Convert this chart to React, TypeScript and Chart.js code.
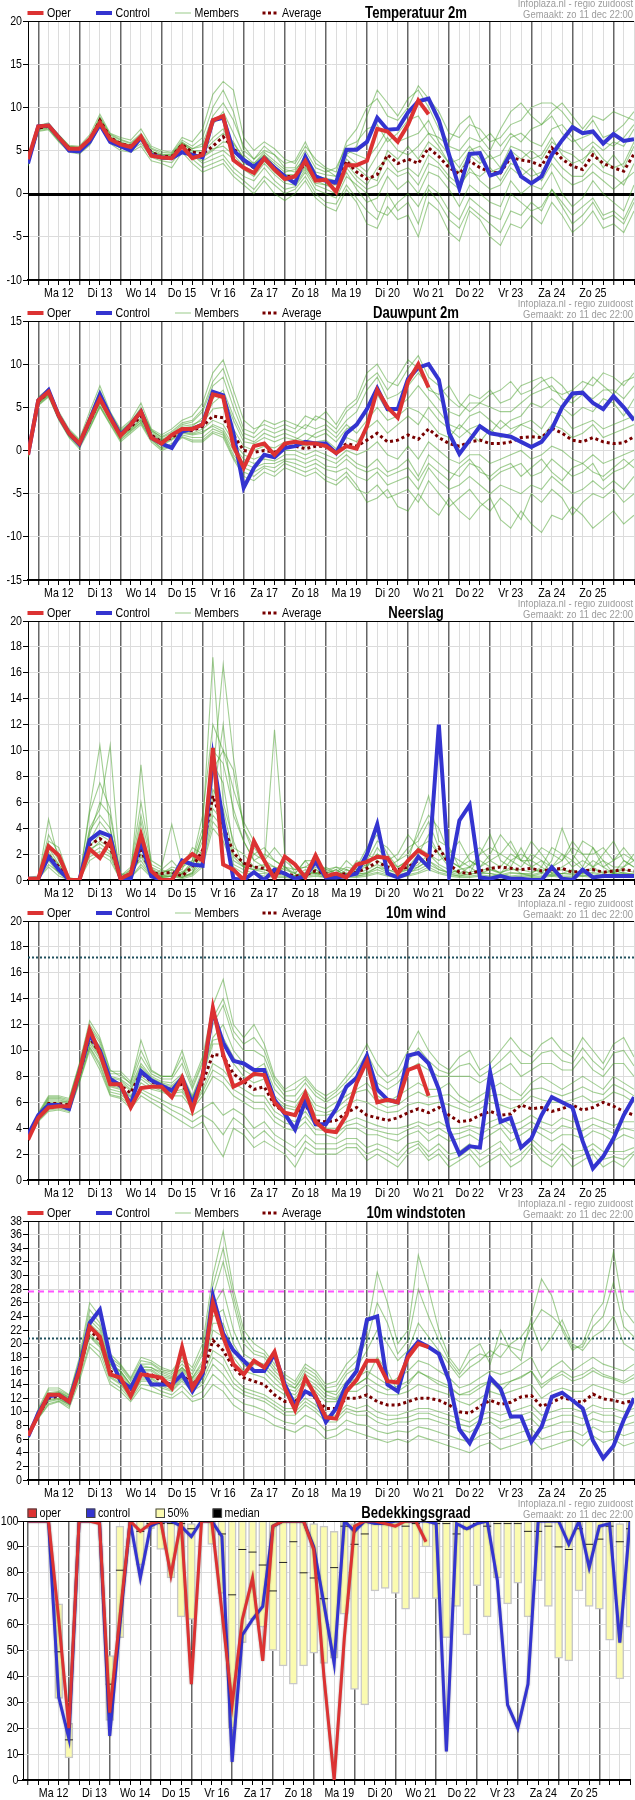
import React, { useEffect, useRef } from "react";
import { Chart, registerables } from "chart.js";
Chart.register(...registerables);

const FONT = '"Liberation Sans", Arial, Helvetica, sans-serif';
const NARROW = 0.82;
const DAYS = ["Ma 12", "Di 13", "Wo 14", "Do 15", "Vr 16", "Za 17", "Zo 18", "Ma 19", "Di 20", "Wo 21", "Do 22", "Vr 23", "Za 24", "Zo 25"];
const HEADER_SITE = "Infoplaza.nl - regio zuidoost";
const HEADER_MADE = "Gemaakt: zo 11 dec 22:00";
const RED = "#dc3232";
const BLUE = "#3434d0";
const MEMBER = "rgba(70,160,40,0.5)";
const AVG = "#780000";

// ---------- Temperatuur 2m (6-hourly from zo 11 18:00) ----------
const TEMP_OPER = [4.0,7.8,7.9,6.5,5.2,5.2,6.3,8.2,6.3,5.7,5.4,6.6,4.4,4.2,4.1,5.5,4.1,4.5,8.5,9.0,3.9,3.0,2.4,4.1,2.8,1.7,2.0,3.8,1.5,1.6,0.2,3.3,3.3,3.8,7.5,7.2,6.0,8.0,10.8,9.2];
const TEMP_CTRL = [3.5,7.8,7.9,6.5,5.0,4.9,6.0,8.0,6.0,5.5,5.0,6.5,4.5,4.2,4.1,4.8,4.5,4.2,8.5,8.8,5.0,3.9,3.1,4.1,3.0,2.0,1.2,4.3,2.0,1.5,1.3,5.1,5.1,6.0,8.8,7.4,7.5,9.4,10.7,11.0,8.5,4.5,0.6,4.6,4.7,2.1,2.5,4.7,2.0,1.2,2.0,4.5,6.2,7.7,7.0,7.2,5.8,6.9,6.1,6.3];
const TEMP_AVG = [3.8,7.6,7.8,6.5,5.3,5.1,6.2,8.5,6.5,5.8,5.5,6.5,4.8,4.3,4.3,5.7,4.8,4.6,5.5,6.6,5.3,3.8,3.0,4.2,3.0,2.0,2.0,3.5,1.8,1.4,1.2,3.8,2.5,1.7,2.2,4.5,3.5,4.0,3.5,5.3,4.3,3.0,2.3,3.8,3.0,2.5,2.4,4.2,3.9,3.7,3.2,5.3,4.0,3.2,2.8,4.5,3.5,3.0,2.6,4.6];
const TEMP_MEMBERS = [
  [3.5,7.9,8.2,6.8,5.6,5.5,6.8,9.2,7.0,6.5,6.2,7.5,5.5,5.0,4.8,6.5,6.0,7.5,11.5,13.0,12.0,6.5,5.0,6.0,5.2,4.0,3.5,5.5,4.0,3.0,2.5,6.0,7.5,10.0,11.0,9.0,8.5,10.0,12.5,11.0,9.5,7.0,6.5,8.0,7.5,6.0,6.5,8.0,8.5,10.0,10.5,10.5,9.5,8.0,7.0,8.5,6.5,7.0,8.0,9.5],
  [3.2,7.2,7.4,6.0,4.8,4.6,5.6,7.8,5.8,5.0,4.8,5.5,3.8,3.5,3.0,4.8,3.5,2.5,3.0,3.5,2.0,1.0,0.0,1.5,0.0,-0.8,0.0,1.5,-0.5,-1.5,-2.0,0.5,-1.0,-3.5,-4.0,-1.5,-3.0,-2.5,-5.0,-1.0,-2.0,-4.5,-5.5,-2.0,-3.0,-5.0,-6.0,-3.5,-4.0,-2.5,-3.5,-1.0,-2.5,-4.5,-3.5,-2.0,-4.0,-3.5,-4.5,-2.0],
  [4.0,7.8,8.0,6.8,5.5,5.3,6.5,8.8,6.8,6.2,5.8,6.8,5.2,4.6,4.5,6.0,5.2,5.5,8.0,9.5,7.0,4.5,3.5,4.8,3.8,2.8,2.5,4.5,2.5,2.2,2.0,5.0,4.5,4.0,5.5,7.5,6.0,6.5,7.0,8.5,6.0,4.5,3.0,5.0,5.5,4.0,4.5,6.5,7.0,6.0,5.5,7.5,8.0,6.5,5.0,6.0,5.0,6.0,5.5,7.5],
  [3.6,7.4,7.6,6.2,5.0,4.9,6.0,8.2,6.2,5.5,5.2,6.2,4.5,4.0,4.0,5.4,4.4,3.8,4.5,5.0,4.0,2.8,2.0,3.5,2.2,1.2,1.0,2.8,1.0,0.5,0.0,2.5,0.5,-1.0,-0.5,2.0,0.5,1.5,0.0,2.5,2.0,0.5,-1.5,1.0,0.0,-1.0,-1.5,1.5,0.0,1.0,0.5,2.5,0.0,-1.5,-0.5,1.5,0.0,-1.0,-2.0,1.0],
  [3.9,7.7,7.9,6.6,5.4,5.2,6.3,8.6,6.6,6.0,5.6,6.6,4.9,4.4,4.4,5.8,5.0,5.0,6.5,7.5,5.0,3.5,3.2,4.5,3.5,2.5,2.8,4.0,2.0,1.8,1.5,4.0,3.0,2.0,1.5,5.0,4.0,5.5,4.0,6.0,5.0,3.5,4.0,5.5,4.0,2.5,3.0,5.0,4.0,5.0,4.0,6.0,5.0,4.5,3.5,5.5,4.0,3.0,3.5,6.0],
  [3.7,7.5,7.7,6.4,5.2,5.0,6.1,8.4,6.4,5.7,5.4,6.4,4.7,4.2,4.2,5.6,4.6,4.2,5.0,6.0,5.8,4.2,3.0,3.8,2.5,1.5,1.5,3.0,1.5,1.0,1.0,3.5,2.0,1.0,3.0,4.0,2.5,3.0,2.0,4.5,3.5,2.0,1.0,2.5,2.0,3.0,1.5,3.5,3.0,2.0,2.5,4.5,3.0,2.0,2.0,3.5,2.5,2.0,1.0,3.5],
  [3.8,7.6,7.8,6.5,5.4,5.3,6.2,8.6,6.5,5.9,5.6,6.7,4.9,4.5,4.6,5.9,5.2,5.8,9.0,10.5,8.5,5.5,4.0,5.0,4.5,3.0,3.0,5.0,3.0,2.5,3.0,5.5,6.0,7.5,8.0,6.0,7.0,8.5,9.0,7.0,6.5,5.5,5.0,6.5,6.0,7.0,5.5,7.0,6.0,7.5,8.0,9.0,7.0,6.0,6.5,7.0,6.0,5.5,6.5,8.0],
  [3.7,7.5,7.8,6.4,5.2,5.1,6.1,8.3,6.3,5.6,5.3,6.3,4.6,4.1,4.0,5.5,4.5,3.5,4.0,4.5,3.0,2.0,1.5,3.0,1.5,0.5,0.8,2.5,0.5,0.0,-0.5,2.0,1.0,0.0,-2.0,-2.5,-1.0,0.0,-1.5,1.0,0.0,-2.0,-3.0,-0.5,-1.5,-2.5,-3.0,0.0,-1.0,-2.0,-1.5,0.5,-1.0,-2.5,-1.5,-0.5,-2.5,-2.0,-3.0,-0.5],
  [3.6,7.7,8.0,6.7,5.5,5.4,6.4,8.9,6.9,6.3,5.9,7.0,5.3,4.8,4.7,6.2,5.5,6.5,10.0,12.0,9.5,5.0,4.0,5.5,4.5,3.5,3.8,6.0,3.5,2.8,2.0,4.5,5.5,9.0,12.0,10.5,9.0,11.0,12.0,10.0,7.5,6.0,8.0,9.0,6.5,5.0,7.5,9.5,10.5,9.0,8.0,9.5,10.5,9.0,7.5,9.0,8.5,9.5,9.0,8.5],
  [3.4,7.3,7.5,6.1,4.9,4.8,5.8,8.0,6.0,5.3,5.0,5.8,4.2,3.8,3.6,5.0,4.0,3.0,3.5,4.0,2.5,1.5,0.5,2.0,1.0,0.0,0.5,2.0,0.0,-1.0,-1.2,1.0,-0.5,-2.0,-3.0,0.0,-2.0,-1.0,-3.5,0.5,-1.0,-3.0,-4.0,-1.5,-2.5,-3.5,-4.5,-2.0,-2.5,-1.0,-2.0,0.5,-1.5,-3.5,-2.5,-1.0,-3.0,-2.5,-3.5,-1.0],
  [3.8,7.6,7.9,6.6,5.3,5.2,6.3,8.5,6.6,5.9,5.5,6.6,4.9,4.4,4.4,5.8,4.9,4.8,6.0,7.0,6.0,4.0,3.5,4.5,3.2,2.2,2.2,3.8,2.2,1.6,1.5,4.5,3.5,2.5,4.5,6.5,5.0,4.5,5.5,7.0,5.5,3.5,2.5,4.5,3.5,4.5,3.0,5.5,5.0,4.0,4.5,6.5,4.5,3.5,4.0,5.0,3.0,4.5,3.0,5.5],
  [3.7,7.5,7.7,6.4,5.2,5.0,6.1,8.4,6.4,5.7,5.4,6.4,4.7,4.2,4.2,5.6,4.7,4.3,5.2,5.5,4.5,3.2,2.5,3.8,2.8,1.8,1.5,3.2,1.2,1.0,0.5,3.0,1.5,0.5,1.0,3.0,2.0,2.5,1.0,3.5,3.0,1.5,0.5,3.0,1.5,0.5,1.0,3.0,2.0,3.0,1.5,3.5,2.0,1.0,1.5,2.5,1.5,0.5,1.5,2.5],
];

// ---------- Dauwpunt 2m ----------
const DEW_OPER = [-0.5,5.8,6.8,4.0,2.0,0.8,3.5,6.0,3.8,1.7,3.0,4.5,1.5,0.8,1.8,2.5,2.5,3.0,6.5,6.2,0.5,-2.0,0.5,0.8,-0.5,0.8,1.0,0.8,0.8,0.5,-0.3,0.5,0.2,2.8,7.0,5.0,3.8,8.0,10.0,7.3];
const DEW_CTRL = [-0.5,5.8,7.0,4.0,2.0,0.7,3.5,6.5,4.0,1.8,3.0,4.5,1.5,0.8,0.3,2.2,2.5,3.0,6.8,6.4,2.0,-4.3,-2.0,-0.5,-0.8,0.3,0.5,1.0,0.8,0.8,-0.3,2.0,3.0,4.8,7.2,4.8,4.8,8.3,9.6,10.0,8.2,2.0,-0.4,1.2,2.8,2.0,1.8,1.6,1.0,0.4,1.0,2.5,5.0,6.6,6.7,5.5,4.8,6.3,5.0,3.5];
const DEW_AVG = [-0.5,5.7,6.7,4.0,2.0,0.8,3.3,6.0,3.8,1.8,2.7,4.0,1.8,1.0,1.5,2.3,2.3,2.8,4.0,3.8,1.8,0.0,-0.2,0.0,-0.2,0.5,0.5,0.2,0.5,0.5,-0.3,0.8,0.5,1.2,2.0,1.0,1.2,1.8,1.3,2.5,1.5,0.8,0.5,1.0,1.2,0.8,0.8,1.0,1.5,1.6,1.5,2.6,2.0,1.2,1.0,1.5,1.0,0.8,0.9,1.6];
const DEW_MEMBERS = [
  [-0.3,6.2,7.2,4.5,2.5,1.3,4.5,7.5,4.5,2.5,3.5,5.5,2.5,1.8,2.5,3.5,4.0,5.5,9.0,10.5,7.0,3.5,2.5,3.0,2.5,3.0,2.5,4.0,3.5,4.5,3.0,5.0,6.0,9.0,10.0,8.0,7.5,9.5,11.0,8.5,7.5,6.0,5.0,6.5,6.0,7.0,5.5,6.0,7.5,8.0,8.5,7.0,6.5,7.0,8.0,7.5,9.0,8.5,7.5,9.0],
  [-0.8,5.2,6.2,3.5,1.5,0.2,2.5,5.0,3.0,1.0,2.0,3.0,1.0,0.0,0.5,1.5,1.0,1.0,2.0,1.5,-1.0,-3.0,-3.5,-2.5,-3.0,-2.0,-2.5,-3.0,-2.5,-3.5,-4.0,-3.0,-4.5,-5.0,-4.0,-5.5,-5.0,-4.5,-6.0,-3.5,-5.0,-6.5,-5.5,-4.5,-6.0,-7.0,-5.5,-6.5,-8.0,-5.0,-6.0,-4.5,-5.5,-7.5,-6.0,-5.0,-5.5,-4.5,-6.0,-5.0],
  [-0.4,5.9,6.9,4.2,2.2,1.0,3.8,6.5,4.0,2.0,3.0,4.5,2.2,1.3,1.8,2.8,3.0,3.5,5.5,6.5,3.5,1.0,0.8,1.5,1.0,1.5,1.2,2.0,1.5,2.0,1.0,2.5,3.0,5.0,6.5,4.5,5.0,6.0,7.5,6.0,4.5,3.0,2.5,4.0,4.5,3.5,2.5,3.5,4.0,5.5,5.0,6.0,5.0,4.0,5.0,4.5,6.0,5.5,4.0,6.0],
  [-0.6,5.5,6.5,3.8,1.8,0.6,3.0,5.5,3.5,1.5,2.5,3.5,1.5,0.6,1.2,2.0,1.8,2.0,3.0,2.5,0.5,-1.0,-1.5,-1.0,-1.2,-0.5,-0.5,-1.0,-0.5,-1.0,-1.5,-0.5,-1.5,-2.0,-1.0,-2.5,-2.0,-1.0,-3.0,-0.5,-1.5,-2.5,-3.0,-1.5,-2.0,-3.5,-2.5,-2.0,-1.5,-3.0,-2.5,-1.0,-2.0,-3.0,-2.5,-1.5,-3.5,-2.5,-2.0,-1.0],
  [-0.5,5.7,6.8,4.1,2.1,0.9,3.4,6.2,3.9,1.9,2.8,4.2,1.9,1.1,1.6,2.4,2.6,3.2,4.8,5.0,2.5,0.5,0.0,0.5,0.3,1.0,0.8,0.5,1.0,1.2,0.2,1.5,1.0,2.5,3.5,2.0,3.0,4.0,3.0,5.0,3.5,2.5,1.5,2.5,3.0,2.0,3.5,2.5,3.0,3.5,2.5,4.5,4.0,2.5,3.0,3.5,2.5,3.0,3.5,4.0],
  [-0.5,5.6,6.6,3.9,1.9,0.7,3.2,5.8,3.7,1.7,2.6,3.8,1.7,0.9,1.4,2.2,2.0,2.5,3.5,3.0,1.0,-0.5,-1.0,-0.5,-0.5,0.0,0.0,-0.5,0.0,-0.5,-1.0,0.0,-0.5,0.0,1.0,-0.5,-1.0,0.5,-1.0,1.0,0.0,-1.0,-1.5,-0.5,-0.5,-1.5,-1.0,-0.5,0.0,-1.0,-0.5,0.5,0.0,-1.0,-1.5,-0.5,-1.5,-1.0,-0.5,0.0],
  [-0.4,5.8,6.9,4.2,2.2,1.1,3.7,6.6,4.2,2.2,3.2,4.8,2.4,1.5,2.0,3.0,3.3,4.5,7.5,8.5,5.0,2.0,1.5,2.5,2.0,2.5,2.0,3.0,2.5,3.0,2.0,3.5,4.5,7.0,8.5,6.0,6.5,7.5,9.0,7.5,6.0,4.5,4.0,5.5,5.5,5.0,4.5,4.5,5.5,6.5,7.0,7.5,6.0,5.5,6.5,6.0,7.0,7.0,6.0,7.5],
  [-0.6,5.4,6.4,3.7,1.7,0.5,2.8,5.2,3.3,1.3,2.3,3.3,1.3,0.3,0.8,1.8,1.5,1.5,2.5,2.0,-0.5,-2.0,-2.5,-1.8,-2.0,-1.2,-1.5,-2.0,-1.5,-2.2,-2.5,-2.0,-3.0,-3.5,-2.5,-4.0,-3.5,-3.0,-4.5,-2.0,-3.5,-4.5,-4.0,-3.0,-4.0,-5.0,-4.0,-4.5,-5.0,-4.0,-4.5,-3.0,-4.0,-5.0,-4.5,-3.5,-4.5,-3.5,-4.5,-3.0],
  [-0.4,6.0,7.0,4.3,2.3,1.2,4.0,7.0,4.3,2.3,3.3,5.0,2.3,1.6,2.2,3.2,3.5,4.8,8.0,9.5,6.0,2.5,2.0,3.5,3.0,3.5,3.0,2.5,4.0,3.5,2.5,4.5,5.5,8.0,9.0,7.0,8.5,10.5,9.5,7.0,6.5,7.5,5.5,4.5,5.5,6.5,7.0,8.0,6.5,7.0,8.0,8.5,7.5,6.0,7.0,8.5,7.5,6.5,8.0,8.5],
  [-0.7,5.3,6.3,3.6,1.6,0.4,2.6,5.1,3.1,1.2,2.2,3.2,1.2,0.2,0.6,1.6,1.2,1.2,2.2,1.8,-0.8,-2.5,-3.0,-2.0,-2.5,-1.5,-2.0,-2.5,-2.0,-3.0,-3.5,-2.5,-4.0,-6.0,-5.5,-4.5,-6.5,-7.0,-5.0,-6.5,-7.5,-5.5,-7.0,-8.0,-6.5,-5.5,-8.0,-9.0,-7.0,-8.5,-9.5,-7.5,-8.0,-6.5,-7.5,-9.0,-8.0,-7.0,-8.5,-7.5],
  [-0.5,5.8,6.8,4.1,2.1,0.9,3.6,6.3,4.0,2.0,2.9,4.3,2.0,1.2,1.7,2.6,2.8,3.8,6.0,7.0,4.0,1.5,1.0,2.0,1.5,2.0,1.5,1.0,2.0,2.5,1.5,3.0,2.0,3.5,5.0,3.5,4.0,5.0,4.5,3.5,2.0,1.5,3.0,2.0,1.0,2.5,1.5,2.0,3.0,2.5,1.5,3.0,2.5,1.5,2.0,3.0,1.5,2.0,2.5,3.0],
  [-0.5,5.5,6.5,3.8,1.8,0.6,3.1,5.6,3.6,1.6,2.4,3.6,1.6,0.7,1.3,2.1,1.9,2.2,2.8,2.2,0.0,-1.5,-2.0,-1.5,-1.5,-1.0,-1.0,-1.5,-1.0,-1.8,-2.0,-1.0,-2.0,-2.5,-2.0,-3.0,-2.5,-2.0,-3.5,-1.5,-2.5,-3.5,-2.0,-1.0,-2.5,-3.0,-2.0,-1.5,-3.0,-2.0,-1.0,-2.5,-3.5,-2.0,-1.5,-2.5,-3.0,-2.0,-1.0,-2.0],
];

// ---------- Neerslag ----------
const RAIN_OPER = [0.1,0.1,2.6,1.9,0.0,0.0,2.4,1.7,3.0,0.1,0.5,3.5,0.7,0.0,0.0,1.3,2.0,1.5,10.2,1.2,0.8,0.0,3.0,1.5,0.1,1.8,1.2,0.2,1.9,0.3,0.5,0.2,1.2,1.4,1.8,1.7,0.5,1.5,2.3,1.8];
const RAIN_CTRL = [0.1,0.1,1.8,0.8,0.0,0.0,3.1,3.7,3.4,0.1,0.1,3.0,0.3,0.0,0.0,1.5,1.2,1.1,9.5,4.5,0.1,0.0,0.6,0.0,0.8,0.5,0.1,0.3,1.4,0.2,0.2,0.3,0.5,2.0,4.3,0.5,0.2,0.5,1.8,1.0,12.0,0.3,4.6,5.8,0.2,0.1,0.3,0.1,0.1,0.0,0.0,1.0,0.1,0.0,0.8,0.2,0.3,0.3,0.3,0.3];
const RAIN_AVG = [0.1,0.1,1.9,1.0,0.0,0.0,2.7,3.2,2.6,0.1,0.4,2.3,0.5,0.5,0.6,0.3,1.0,2.3,6.5,4.2,2.1,1.3,1.0,0.9,0.6,0.5,0.3,0.4,0.7,0.5,0.4,0.5,0.6,0.9,1.4,1.0,0.8,1.0,1.5,1.6,2.5,1.2,0.6,0.5,0.7,0.9,1.0,0.9,0.8,0.9,0.7,0.8,0.9,0.6,0.7,0.8,0.6,0.7,0.8,0.7];
const RAIN_MEMBERS = [
  [0.1,0.2,3.5,2.0,0.1,0.0,5.5,10.4,4.0,0.2,0.5,8.9,1.0,0.2,0.3,0.5,1.5,4.0,17.2,6.0,3.0,1.0,2.0,1.5,0.5,1.0,0.3,0.5,1.0,0.5,0.8,0.3,1.0,2.5,3.5,2.0,1.0,1.5,4.0,6.5,3.0,2.5,1.0,0.5,2.0,3.5,1.5,1.0,2.5,1.0,0.5,1.5,4.0,2.0,1.0,2.5,1.5,0.5,1.0,2.0],
  [0.1,0.1,4.7,1.5,0.0,0.0,4.0,5.5,10.4,0.5,0.3,4.5,0.5,0.5,1.0,0.8,2.5,2.0,8.0,16.6,9.5,4.0,2.5,1.5,1.0,0.8,0.5,1.5,0.5,1.0,0.5,1.5,0.8,1.0,2.0,1.5,2.0,3.5,2.5,2.0,1.5,2.0,3.0,1.5,1.0,2.0,3.5,2.5,1.5,3.0,2.0,1.0,1.5,3.0,2.0,1.0,2.0,3.0,1.5,1.0],
  [0.1,0.1,1.5,0.5,0.0,0.0,2.0,2.5,2.0,0.1,0.8,1.5,0.3,0.8,0.5,0.2,0.5,2.5,6.0,12.0,5.0,3.0,1.5,1.0,11.6,2.0,0.5,0.2,0.8,0.3,0.2,0.8,0.5,0.5,1.0,0.8,0.5,0.8,1.0,1.5,1.0,0.5,0.8,1.0,0.5,0.8,0.5,1.0,0.5,0.5,1.0,0.5,0.5,0.8,0.5,1.0,0.5,0.8,0.5,0.5],
  [0.0,0.1,1.0,0.3,0.0,0.0,1.5,2.0,1.5,0.0,0.2,1.0,0.2,0.2,0.3,0.1,0.3,1.0,4.0,3.0,1.0,0.5,0.5,0.3,0.2,0.2,0.1,0.2,0.3,0.2,0.1,0.2,0.2,0.3,0.5,0.3,0.2,0.3,0.5,0.8,0.5,0.3,0.2,0.2,0.3,0.2,0.3,0.2,0.3,0.2,0.2,0.3,0.2,0.2,0.3,0.2,0.2,0.3,0.2,0.2],
  [0.1,0.1,2.5,1.2,0.0,0.0,3.0,4.5,3.5,0.2,0.5,3.0,0.8,0.5,0.8,0.5,1.0,3.5,9.0,7.5,2.5,2.0,1.0,1.2,1.0,0.5,0.3,0.8,0.5,0.5,0.8,0.3,1.5,1.0,2.5,1.5,0.5,1.0,2.0,3.5,2.0,1.0,0.5,1.0,1.5,1.0,0.5,1.5,1.0,2.0,1.5,0.5,1.0,1.5,0.8,1.5,1.0,0.5,1.5,1.0],
  [0.1,0.1,1.8,0.8,0.0,0.0,2.2,3.0,2.5,0.1,0.3,2.0,0.5,0.3,0.5,0.3,0.5,1.5,5.0,4.0,1.5,1.0,0.8,0.8,0.5,0.5,0.2,0.5,0.5,0.3,0.3,0.5,0.3,0.5,0.8,0.5,0.3,0.5,1.0,1.5,0.8,0.5,0.3,0.5,0.5,0.5,0.3,0.5,0.5,0.3,0.5,0.3,0.5,0.5,0.3,0.5,0.3,0.5,0.5,0.3],
  [0.2,0.3,3.0,2.5,0.2,0.0,3.5,6.0,5.0,0.3,1.0,6.0,1.5,1.0,4.3,1.0,1.5,5.0,12.0,10.0,8.5,4.0,2.0,2.5,1.5,1.0,0.8,1.0,1.5,0.8,1.0,0.8,0.5,2.0,1.5,1.0,1.5,2.5,3.0,4.5,2.5,1.5,1.0,2.0,2.5,1.5,2.0,3.0,1.5,1.5,2.5,2.0,1.5,2.5,2.0,2.0,2.5,1.5,2.0,1.5],
  [0.1,0.1,2.2,1.0,0.0,0.0,2.6,3.5,3.0,0.1,0.4,2.5,0.6,0.4,0.6,0.4,0.8,2.0,7.0,5.5,2.0,1.2,1.0,0.8,0.6,0.5,0.3,0.6,0.6,0.4,0.4,0.5,0.5,0.8,1.2,0.8,0.6,0.8,1.2,2.0,1.2,0.8,0.5,0.6,0.8,0.8,0.6,0.8,0.8,0.6,0.8,0.6,0.8,0.6,0.6,0.8,0.6,0.6,0.8,0.6],
  [0.1,0.2,2.8,1.5,0.1,0.0,5.2,7.5,5.5,0.3,0.8,5.0,1.2,0.8,1.5,0.6,1.2,3.5,10.0,9.0,5.5,3.0,1.5,2.0,1.5,1.0,0.5,1.5,1.5,0.8,0.5,1.0,0.8,1.5,3.0,2.5,1.5,2.0,3.5,5.0,4.0,2.0,1.5,1.0,2.0,2.5,2.0,1.5,2.0,1.5,1.0,2.5,2.0,1.5,3.0,2.5,1.0,1.5,2.5,1.5],
  [0.1,0.1,1.2,0.6,0.0,0.0,1.8,2.2,1.8,0.0,0.2,1.2,0.3,0.2,0.3,0.2,0.4,1.2,4.5,3.5,1.2,0.8,0.5,0.5,0.3,0.3,0.2,0.3,0.4,0.2,0.2,0.3,0.3,0.4,0.6,0.4,0.3,0.4,0.6,1.0,0.6,0.4,0.3,0.3,0.4,0.3,0.4,0.3,0.4,0.3,0.3,0.4,0.3,0.3,0.4,0.3,0.3,0.4,0.3,0.3],
  [0.1,0.1,2.0,1.2,0.0,0.0,3.8,5.0,4.0,0.2,0.6,3.5,1.0,0.6,0.8,0.5,1.2,3.0,8.5,10.0,7.0,4.5,3.0,1.5,2.5,1.5,0.8,1.0,0.8,0.6,1.0,0.5,0.8,1.2,2.0,1.5,1.0,1.5,2.5,3.0,2.0,1.5,1.0,1.5,1.0,1.5,1.0,2.0,1.5,1.0,1.5,1.0,2.0,1.0,1.5,1.0,1.5,1.0,1.0,1.5],
  [0.1,0.1,1.6,0.9,0.0,0.0,2.4,2.8,2.2,0.1,0.3,1.8,0.4,0.3,0.4,0.2,0.6,1.8,5.5,4.5,1.8,1.0,0.8,0.6,0.4,0.4,0.2,0.4,0.5,0.3,0.3,0.4,0.4,0.6,1.0,0.6,0.4,0.6,0.8,1.2,0.8,0.6,0.4,0.4,0.6,0.5,0.4,0.6,0.5,0.4,0.6,0.4,0.5,0.4,0.5,0.6,0.4,0.5,0.6,0.4],
];

// ---------- 10m wind ----------
const WIND_OPER = [3.1,4.8,5.6,5.7,5.7,8.3,11.6,9.8,7.4,7.4,5.6,7.1,7.2,7.2,6.4,7.9,5.4,8.0,13.3,9.7,7.2,7.6,8.2,8.1,6.0,5.2,5.0,6.7,4.5,3.8,3.7,5.0,7.5,9.2,6.0,6.2,6.0,8.5,8.8,6.5];
const WIND_CTRL = [3.5,5.0,5.8,5.8,5.5,8.3,11.2,10.0,7.8,7.3,5.8,8.4,7.7,7.3,6.9,7.9,5.9,8.0,13.0,10.6,9.2,9.0,8.5,8.5,6.2,5.1,3.9,6.1,4.3,4.3,5.5,7.2,7.9,9.6,7.0,6.2,6.0,9.6,9.8,9.0,7.0,3.8,2.0,2.6,2.5,8.3,4.5,4.8,2.5,3.2,5.0,6.4,6.0,5.6,3.0,0.9,1.8,3.2,5.0,6.4];
const WIND_AVG = [3.5,4.8,5.9,5.9,5.8,8.2,11.0,9.8,7.5,7.3,6.7,8.3,7.6,7.2,7.0,7.4,6.0,7.5,9.7,9.6,8.2,7.6,7.0,7.2,5.8,5.2,5.0,5.8,4.6,4.5,4.6,5.2,5.6,5.0,4.8,4.6,4.8,5.2,5.5,5.2,5.6,5.0,4.5,4.6,5.0,5.3,5.0,5.1,5.8,5.5,5.6,5.3,5.5,5.8,5.4,5.6,6.0,5.7,5.3,5.0];
const WIND_MEMBERS = [
  [3.2,5.2,6.5,6.5,6.3,9.0,12.3,11.0,8.5,8.0,7.5,10.8,8.5,8.0,8.0,10.0,7.5,9.5,13.5,15.5,12.0,11.0,12.0,10.5,8.0,7.0,7.5,8.0,7.0,6.5,7.0,8.0,9.0,10.5,9.0,8.0,8.5,10.0,11.5,10.0,9.0,8.5,9.5,10.0,8.5,9.0,10.0,11.0,10.0,9.5,10.5,11.0,10.0,9.5,11.0,10.0,9.0,10.5,11.0,9.5],
  [3.6,4.5,5.3,5.4,5.2,7.5,10.0,8.5,6.5,6.3,5.5,6.5,6.0,5.5,5.0,4.5,4.0,4.5,3.0,1.8,4.0,3.5,2.5,3.0,2.5,2.0,1.0,2.5,2.0,2.0,2.0,2.5,2.5,1.5,2.0,1.5,1.0,2.0,2.5,1.5,2.0,1.0,1.5,2.0,1.0,1.5,2.0,1.0,1.5,2.5,1.5,1.0,2.0,1.0,1.5,2.0,1.0,1.5,1.0,2.0],
  [3.4,5.0,6.2,6.2,6.0,8.6,11.5,10.3,8.0,7.8,7.2,9.0,8.0,7.6,7.5,8.2,6.5,8.5,11.0,12.0,10.0,9.0,8.5,9.0,7.0,6.2,6.0,7.0,5.8,5.5,6.0,6.5,7.0,7.5,6.5,6.0,6.5,7.0,7.5,7.0,7.0,7.5,6.5,6.0,6.5,7.0,7.5,7.0,6.5,7.5,8.0,7.5,7.0,7.5,8.0,7.5,7.0,8.0,7.5,7.0],
  [3.5,4.7,5.6,5.7,5.6,7.9,10.5,9.3,7.0,6.8,6.2,7.5,7.0,6.8,6.5,6.5,5.5,6.5,8.0,7.5,6.5,6.0,5.5,5.5,4.5,4.0,3.8,4.5,3.5,3.5,3.2,4.0,4.0,3.5,3.5,3.2,3.0,3.5,3.8,3.0,3.5,3.0,3.2,3.5,3.0,3.5,4.0,3.0,3.5,4.0,3.5,3.0,3.5,3.5,3.2,3.8,3.5,3.0,3.5,3.2],
  [3.5,4.9,6.0,6.0,5.9,8.3,11.2,10.0,7.7,7.5,6.9,8.6,7.8,7.4,7.2,7.8,6.3,8.0,10.5,10.5,9.0,8.0,7.5,7.8,6.2,5.6,5.4,6.4,5.0,5.0,5.2,5.8,6.2,6.0,5.5,5.2,5.3,5.8,6.0,5.8,6.0,5.8,5.5,5.2,5.5,6.0,5.8,5.5,5.8,6.5,6.2,6.0,6.0,6.2,6.5,6.0,6.2,6.8,6.5,6.0],
  [3.4,4.8,5.8,5.8,5.7,8.0,10.8,9.6,7.3,7.1,6.5,8.0,7.4,7.0,6.8,7.0,5.8,7.0,9.0,8.5,7.5,7.0,6.5,6.5,5.3,4.8,4.5,5.3,4.2,4.0,4.0,4.5,4.8,4.5,4.2,4.0,4.0,4.2,4.5,4.2,4.5,4.0,4.0,4.2,4.0,4.5,4.8,4.2,4.5,5.0,4.5,4.2,4.8,4.5,4.5,4.8,4.5,4.2,4.5,4.5],
  [3.3,5.1,6.3,6.3,6.1,8.8,11.8,10.6,8.2,8.2,7.4,9.5,8.2,7.8,7.8,9.0,7.0,9.0,12.0,13.5,11.0,10.0,10.0,9.5,7.5,6.5,6.5,7.5,6.5,6.0,6.5,7.2,8.0,9.0,7.5,7.0,7.5,8.5,9.0,8.5,8.0,8.0,8.0,8.0,7.5,8.0,8.5,9.0,8.0,8.5,9.0,9.0,8.5,8.5,9.5,8.5,8.0,9.0,9.0,8.0],
  [3.6,4.6,5.5,5.6,5.4,7.7,10.3,9.0,6.8,6.6,6.0,7.0,6.6,6.2,5.8,5.5,5.0,5.5,6.0,5.0,5.5,5.0,4.0,4.5,3.5,3.0,2.5,3.5,2.8,2.8,2.8,3.2,3.2,2.5,2.8,2.5,2.0,2.8,3.0,2.2,2.8,2.0,2.2,2.8,2.0,2.5,3.0,2.0,2.5,3.2,2.5,2.0,2.8,2.2,2.3,2.8,2.2,2.2,2.2,2.5],
  [3.3,5.0,6.1,6.1,6.0,8.5,11.4,10.2,7.9,7.7,7.0,8.8,7.9,7.5,7.3,8.0,6.4,8.2,10.8,11.0,9.5,8.5,8.0,8.3,6.5,5.8,5.6,6.8,5.4,5.2,5.5,6.2,6.8,7.0,6.0,5.6,5.8,6.4,6.8,6.4,6.5,6.6,6.0,5.6,6.0,6.5,6.6,6.2,6.2,7.0,7.1,6.8,6.5,6.8,7.2,6.8,6.6,7.4,7.0,6.5],
  [3.5,4.8,5.7,5.8,5.6,8.0,10.7,9.5,7.2,7.0,6.4,7.8,7.2,6.9,6.7,6.8,5.7,6.8,8.5,8.0,7.0,6.5,6.0,6.0,4.9,4.4,4.2,4.9,3.9,3.8,3.6,4.2,4.4,4.0,3.8,3.6,3.5,3.9,4.2,3.6,4.0,3.5,3.6,3.9,3.5,4.0,4.4,3.6,4.0,4.5,4.0,3.6,4.2,4.0,3.8,4.3,4.0,3.6,4.0,3.8],
  [3.4,5.1,6.4,6.4,6.2,8.9,12.0,10.8,8.4,8.4,7.6,10.0,8.4,8.0,8.0,9.5,7.2,9.2,12.5,14.0,11.5,10.5,11.0,10.0,7.8,6.8,7.0,7.8,6.8,6.2,6.8,7.6,8.5,9.8,8.2,7.5,8.0,9.2,10.2,9.2,8.5,8.2,8.8,9.0,8.0,8.5,9.2,10.0,9.0,9.0,9.8,10.0,9.2,9.0,10.2,9.2,8.5,9.8,10.0,8.8],
  [3.6,4.6,5.4,5.5,5.3,7.6,10.2,8.8,6.6,6.4,5.8,6.8,6.3,5.9,5.4,5.0,4.5,5.0,4.5,3.5,4.8,4.2,3.2,3.8,3.0,2.5,1.8,3.0,2.4,2.4,2.4,2.8,2.8,2.0,2.4,2.0,1.5,2.4,2.8,1.8,2.4,1.5,1.8,2.4,1.5,2.0,2.5,1.5,2.0,2.8,2.0,1.5,2.4,1.6,1.9,2.4,1.6,1.8,1.6,2.2],
];
const WIND_STORM = 17.2;

// ---------- 10m windstoten ----------
const GUST_OPER = [6.5,9.5,12.5,12.5,11.5,16.0,22.5,21.0,15.5,15.0,12.3,15.5,15.3,15.0,13.5,19.5,13.5,16.0,26.0,21.0,17.0,15.5,17.5,16.5,18.8,13.5,10.3,15.0,12.3,9.2,9.0,13.0,14.7,17.5,17.5,14.5,14.3,18.0,20.0,19.5];
const GUST_CTRL = [6.3,9.8,12.3,12.5,11.5,16.5,23.0,25.0,18.0,14.5,13.5,16.5,14.0,14.0,14.0,15.5,13.0,15.5,27.0,21.5,19.0,17.5,16.0,16.0,18.5,14.0,11.0,13.0,12.3,8.5,10.5,14.0,16.0,23.5,24.0,14.0,13.0,18.5,20.3,19.5,18.5,14.6,7.4,5.4,8.5,15.0,13.4,9.3,9.3,5.6,7.8,12.2,12.8,11.7,10.5,5.8,3.2,5.0,8.8,12.0];
const GUST_AVG = [6.5,9.5,12.0,12.3,11.5,16.0,22.0,20.5,16.0,15.0,13.0,15.5,15.5,14.5,14.0,15.5,14.0,15.5,20.5,19.0,16.5,15.0,14.5,14.0,12.5,11.5,11.5,13.0,12.0,10.5,10.5,12.0,12.0,12.5,11.5,11.0,11.0,11.5,12.0,12.0,11.7,11.0,10.0,9.8,10.8,11.7,11.1,11.4,12.2,12.4,10.8,11.4,12.1,11.7,11.4,12.6,11.9,11.7,11.3,11.7];
const GUST_MEMBERS = [
  [6.0,10.5,13.5,13.5,12.5,18.0,26.0,24.0,18.5,17.0,15.0,18.0,17.5,16.5,16.0,18.0,16.5,20.0,30.0,36.5,28.0,22.0,20.0,19.0,17.0,15.5,14.5,17.0,16.0,14.0,14.5,17.0,18.5,22.0,30.5,26.0,20.0,22.0,33.0,28.0,22.0,18.0,16.0,19.0,20.0,17.0,22.0,19.0,17.5,24.0,29.5,27.0,22.0,19.0,20.0,24.0,26.0,33.5,25.0,23.0],
  [6.8,9.0,11.0,11.5,10.5,14.5,19.5,18.0,14.0,13.0,11.5,13.5,13.0,12.5,12.0,13.0,11.5,12.0,14.0,13.0,11.0,10.0,9.5,9.0,8.0,7.5,7.0,8.0,7.5,6.0,6.5,7.5,7.0,6.5,6.0,5.5,6.0,5.5,6.5,6.0,5.5,5.0,4.5,4.0,5.0,5.5,4.5,5.0,5.5,6.0,4.5,5.0,5.5,6.0,5.0,6.5,5.5,6.0,5.0,5.5],
  [6.4,9.8,12.5,12.8,12.0,16.5,23.0,21.5,17.0,16.0,14.0,16.5,16.5,15.5,15.0,16.5,15.0,17.0,24.0,25.0,20.0,17.5,17.0,16.5,15.0,13.5,13.0,15.0,14.0,12.5,12.0,14.0,15.0,16.0,15.0,14.0,15.0,16.0,17.5,17.0,16.0,15.0,13.5,14.0,15.0,16.0,15.5,16.0,17.0,18.0,15.0,16.5,17.5,16.0,17.0,18.0,17.0,16.5,16.0,17.0],
  [6.6,9.2,11.5,11.8,11.0,15.5,21.0,19.5,15.0,14.0,12.0,14.5,14.5,13.5,13.0,14.5,13.0,14.0,17.0,15.5,13.5,12.5,12.0,11.5,10.5,9.5,9.5,11.0,10.0,8.5,8.5,10.0,9.5,9.5,8.5,8.0,8.5,8.5,9.0,9.0,8.5,8.0,7.5,7.0,8.0,8.5,7.5,8.0,8.5,9.0,7.5,8.0,8.5,8.5,8.0,9.0,8.5,8.5,8.0,8.5],
  [6.5,9.6,12.2,12.5,11.8,16.2,22.5,21.0,16.5,15.5,13.5,16.0,16.0,15.0,14.5,16.0,14.5,16.0,22.0,21.0,18.0,16.0,15.5,15.0,13.5,12.5,12.0,14.0,13.0,11.5,11.5,13.0,13.0,14.0,13.0,12.5,12.5,13.0,14.0,13.5,13.0,12.5,11.5,11.0,12.0,13.0,12.5,13.0,13.5,14.0,12.0,13.0,13.5,13.0,13.0,14.0,13.5,13.0,12.5,13.0],
  [6.2,10.0,12.8,13.0,12.2,17.0,24.0,22.5,17.5,16.5,14.5,17.0,17.0,16.0,15.5,17.0,15.5,18.5,27.0,32.0,26.0,20.0,18.5,18.0,16.0,14.5,13.5,16.0,15.0,13.0,13.0,15.5,16.5,19.0,22.0,20.0,17.5,19.0,23.0,21.0,19.0,17.0,15.0,16.5,17.5,19.0,18.0,20.0,21.0,23.0,19.0,21.0,23.5,20.0,19.0,21.0,22.0,24.0,20.0,19.0],
  [6.5,9.4,11.8,12.0,11.2,15.8,21.5,20.0,15.5,14.5,12.5,15.0,15.0,14.0,13.5,15.0,13.5,15.0,19.0,18.0,15.0,13.5,13.0,12.5,11.5,10.5,10.5,12.0,11.0,9.5,9.5,11.0,10.5,11.0,10.0,9.5,9.5,10.0,10.5,10.5,10.0,9.5,9.0,8.5,9.5,10.0,9.5,10.0,10.5,11.0,9.5,10.0,10.5,10.5,10.0,11.0,10.5,10.5,10.0,10.5],
  [6.3,9.9,12.6,12.9,12.1,16.8,23.5,22.0,17.0,16.0,14.0,16.8,16.5,15.8,15.2,16.5,15.0,17.5,25.5,28.0,22.0,18.5,17.5,17.0,15.5,14.0,13.5,15.5,14.5,13.0,12.5,14.5,14.0,15.0,18.0,16.0,13.0,14.0,16.0,15.0,14.0,13.5,12.5,13.0,14.0,14.5,13.0,14.5,15.0,16.0,14.0,15.0,16.0,15.0,15.5,16.5,15.5,15.0,14.5,15.5],
  [6.1,10.2,13.2,13.2,12.4,17.5,25.0,23.0,18.0,16.8,14.8,17.5,17.2,16.2,15.8,17.5,16.0,19.0,28.5,34.0,27.0,21.0,19.0,18.5,16.5,15.0,14.0,16.5,15.5,13.5,13.8,16.0,17.5,20.5,26.0,23.0,18.5,20.5,28.0,24.0,20.5,17.5,15.5,17.5,18.5,18.0,20.0,19.5,19.0,22.5,25.0,24.0,22.5,19.5,19.5,22.5,24.0,29.0,22.5,21.0],
  [6.7,9.1,11.2,11.6,10.8,15.0,20.0,18.8,14.5,13.5,11.8,14.0,13.8,13.0,12.5,13.8,12.2,13.0,15.5,14.2,12.2,11.2,10.8,10.2,9.2,8.5,8.2,9.5,8.8,7.2,7.5,8.8,8.2,8.0,7.2,6.8,7.2,7.0,7.8,7.5,7.0,6.5,6.0,5.5,6.5,7.0,6.0,6.5,7.0,7.5,6.0,6.5,7.0,7.2,6.5,7.8,7.0,7.2,6.5,7.0],
  [6.4,9.7,12.4,12.7,11.9,16.4,22.8,21.2,16.8,15.8,13.8,16.2,16.2,15.2,14.8,16.2,14.8,16.5,23.0,23.0,19.0,16.8,16.2,15.8,14.2,13.0,12.5,14.5,13.5,12.0,11.8,13.5,14.0,15.0,14.0,13.2,13.8,14.5,15.8,15.2,14.5,13.8,12.5,12.5,13.5,14.5,14.0,14.5,15.2,16.0,13.5,14.8,15.5,14.5,15.0,16.0,15.2,14.8,14.2,15.0],
  [6.6,9.3,11.7,11.9,11.1,15.6,21.2,19.8,15.2,14.2,12.2,14.8,14.8,13.8,13.2,14.8,13.2,14.5,18.0,16.8,14.2,13.0,12.5,12.0,11.0,10.0,10.0,11.5,10.5,9.0,9.0,10.5,10.0,10.2,9.2,8.8,9.0,9.2,9.8,9.8,9.2,8.8,8.2,7.8,8.8,9.2,8.5,9.0,9.5,10.0,8.5,9.0,9.5,9.5,9.0,10.0,9.5,9.5,9.0,9.5],
];
const GUST_SEVERE = 27.8;
const GUST_STORM = 20.8;

// ---------- Bedekkingsgraad (6-hour cells, centred) ----------
const CLOUD_OPER = [100,100,100,62,20,100,100,99,26,63,100,96,99,100,79,100,37,100,100,65,29,62,78,46,98,100,100,100,89,40,0,55,98,100,100,99,98,100,100,92];
const CLOUD_CTRL = [100,100,100,32,16,100,100,100,17,60,100,78,98,100,100,98,94,100,100,94,7,56,62,67,98,100,100,100,90,68,45,100,96,100,99,99,100,100,100,100,99,11,99,97,99,100,77,29,20,37,100,100,100,91,100,82,98,99,53,100];
const CLOUD_P25 = [null,null,null,31.5,8.5,null,null,null,23,55,null,83,97,89,78,63,62,null,91,72,20,53,62,59,50,44,37,44,49,45,47,64,35,29,73,74,72,66,70,90,70,55,67,56,75,63,78,68,76,63,77,67,47,46,73,67,66,54,39,59];
const CLOUD_P75 = [null,null,null,68,22,null,null,null,48,98,null,100,100,100,100,100,99,null,100,100,100,100,100,100,100,100,100,100,99,98,96,100,99,100,100,100,100,100,100,100,100,100,100,100,100,100,100,100,100,100,100,100,100,100,100,100,100,100,99,100];
const CLOUD_MED = [null,null,null,49.5,15.5,null,null,null,37,81,null,96,99,99,99,99,97,null,100,95,71.5,89,88,83,73,84,92,80,78,70,82,98,91,95,99,99,100,98,99,100,99,99,95,97,99,98,99,99,99,96,96,98,90,89,97,91,93,98,92,97];

const LINE_LEGEND = [
  { label: "Oper", x: 27.5, kind: "line", color: RED, width: 4 },
  { label: "Control", x: 96, kind: "line", color: BLUE, width: 4 },
  { label: "Members", x: 175, kind: "line", color: "rgba(70,160,40,0.55)", width: 1 },
  { label: "Average", x: 262.5, kind: "dots", color: AVG, width: 3 },
];
const BOX_LEGEND = [
  { label: "oper", x: 27.5, color: RED },
  { label: "control", x: 86, color: BLUE },
  { label: "50%", x: 155.5, color: "#fbfbb0" },
  { label: "median", x: 212.6, color: "#000" },
];

const tickVal = (c: any) => (c && c.tick && typeof c.tick.value === "number" ? c.tick.value : -1);
const isDayLine = (v: number) => v >= 0 && Math.round(v) % 4 === 1;

function narrowText(ctx: any, text: string, x: number, y: number, align: string, font: string, color: string) {
  ctx.save();
  ctx.font = font;
  ctx.fillStyle = color;
  ctx.textAlign = align;
  ctx.textBaseline = "middle";
  ctx.translate(x, y);
  ctx.scale(NARROW, 1);
  ctx.fillText(text, 0, 0);
  ctx.restore();
}

const panelPlugin = {
  id: "panel",
  beforeDatasetsDraw(chart: any, _a: any, opts: any) {
    const { ctx, chartArea: a, scales } = chart;
    (opts.refs || []).forEach((r: any) => {
      const y = Math.round(scales.y.getPixelForValue(r.value)) + 0.5;
      ctx.save();
      ctx.strokeStyle = r.color;
      ctx.lineWidth = r.width;
      ctx.setLineDash(r.dash || []);
      ctx.beginPath();
      ctx.moveTo(a.left, y);
      ctx.lineTo(a.right, y);
      ctx.stroke();
      ctx.restore();
    });
  },
  beforeDatasetDraw(chart: any, args: any) {
    const ds = chart.data.datasets[args.index];
    if (ds && ds.halo) {
      chart.ctx.save();
      chart.ctx.shadowColor = "rgba(0,0,0,0.35)";
      chart.ctx.shadowBlur = 2;
    }
  },
  afterDatasetDraw(chart: any, args: any) {
    const ds = chart.data.datasets[args.index];
    if (ds && ds.halo) chart.ctx.restore();
  },
  afterDraw(chart: any, _a: any, opts: any) {
    const { ctx, chartArea: a, scales } = chart;
    ctx.save();
    ctx.strokeStyle = "#000";
    ctx.lineWidth = 1;
    ctx.beginPath();
    ctx.moveTo(a.left, a.top + 0.5);
    ctx.lineTo(a.right, a.top + 0.5);
    ctx.stroke();
    ctx.restore();

    // axis labels (condensed)
    const tickFont = `13px ${FONT}`;
    DAYS.forEach((d, k) => {
      const x = scales.x.getPixelForValue(3 + 4 * k);
      narrowText(ctx, d, x, a.bottom + 13, "center", tickFont, "#000");
    });
    scales.y.ticks.forEach((t: any) => {
      const y = scales.y.getPixelForValue(t.value);
      narrowText(ctx, String(t.value), a.left - (opts.labelGap || 6), y, "right", tickFont, "#000");
    });

    // header
    narrowText(ctx, HEADER_SITE, 633, 4, "right", `11.5px ${FONT}`, "#9c9c9c");
    narrowText(ctx, HEADER_MADE, 633, 14.5, "right", `11.5px ${FONT}`, "#9c9c9c");
    narrowText(ctx, opts.title || "", 416, 14, "center", `bold 16px ${FONT}`, "#000");

    // legend
    const ly = 13;
    const legendFont = `13px ${FONT}`;
    if (opts.boxes) {
      BOX_LEGEND.forEach((it) => {
        ctx.save();
        ctx.fillStyle = it.color;
        ctx.fillRect(it.x, ly - 4.5, 9, 9);
        ctx.strokeStyle = "#444";
        ctx.lineWidth = 1;
        ctx.strokeRect(it.x + 0.5, ly - 4, 8.5, 8.5);
        ctx.restore();
        narrowText(ctx, it.label, it.x + 12, ly, "left", legendFont, "#000");
      });
    } else {
      LINE_LEGEND.forEach((it) => {
        ctx.save();
        ctx.strokeStyle = it.color;
        ctx.lineWidth = it.width;
        ctx.setLineDash(it.kind === "dots" ? [3, 2.5] : []);
        ctx.beginPath();
        ctx.moveTo(it.x, ly);
        ctx.lineTo(it.x + 16, ly);
        ctx.stroke();
        ctx.restore();
        narrowText(ctx, it.label, it.x + 19.5, ly, "left", legendFont, "#000");
      });
    }
  },
};

const pts = (arr: (number | null)[], off = 0) => arr.map((y, i) => ({ x: i + off, y }));

function xScale(max: number) {
  return {
    type: "linear",
    min: 0,
    max,
    offset: false,
    afterBuildTicks: (s: any) => {
      s.ticks = Array.from({ length: 60 }, (_, i) => ({ value: i }));
    },
    afterFit: (s: any) => {
      s.height = 20;
    },
    ticks: {
      autoSkip: false,
      maxRotation: 0,
      minRotation: 0,
      padding: 0,
      color: "rgba(0,0,0,0)",
      font: { family: FONT, size: 11 },
      callback: () => "",
    },
    grid: {
      color: (c: any) => (isDayLine(tickVal(c)) ? "#666" : "#dcdcdc"),
      lineWidth: (c: any) => (isDayLine(tickVal(c)) ? 1.5 : 1),
      tickColor: "#000",
      tickLength: 5,
      tickWidth: 1,
    },
    border: { color: "#000", width: 2 },
  };
}

function yScale(min: number, max: number, step: number, width: number) {
  return {
    type: "linear",
    min,
    max,
    afterFit: (s: any) => {
      s.width = width;
    },
    ticks: { stepSize: step, autoSkip: false, color: "rgba(0,0,0,0)", padding: 2, font: { family: FONT, size: 9 } },
    grid: { color: "#dcdcdc", tickColor: "#000", tickLength: 5 },
    border: { color: "#000", width: 1 },
  };
}

type LinePanel = {
  title: string;
  min: number;
  max: number;
  step: number;
  oper: number[];
  ctrl: number[];
  avg: number[];
  members: number[][];
  refs: any[];
};

function lineConfig(p: LinePanel): any {
  const base = { pointRadius: 0, fill: false, tension: 0 };
  const datasets: any[] = [
    { ...base, label: "Oper", data: pts(p.oper), borderColor: RED, borderWidth: 4, order: 0 },
    { ...base, label: "Control", data: pts(p.ctrl), borderColor: BLUE, borderWidth: 4, order: 1 },
    { ...base, label: "Average", data: pts(p.avg), borderColor: AVG, borderWidth: 3, borderDash: [3, 3], order: 2 },
    ...p.members.map((m, j) => ({ ...base, label: "Member " + (j + 1), data: pts(m.slice(0, 60)), borderColor: MEMBER, borderWidth: 1.1, order: 3 + j })),
  ];
  return {
    type: "line",
    data: { datasets },
    plugins: [panelPlugin],
    options: {
      responsive: false,
      animation: false,
      devicePixelRatio: 1,
      events: [],
      layout: { padding: { top: 21, right: 1, left: 0, bottom: 0 } },
      plugins: { legend: { display: false }, tooltip: { enabled: false }, panel: { title: p.title, refs: p.refs, labelGap: 6 } },
      scales: { x: xScale(59), y: yScale(p.min, p.max, p.step, 28) },
    },
  };
}

function cloudConfig(): any {
  const bars = CLOUD_P25.map((lo, k) => (lo === null || CLOUD_P75[k] === null ? null : { x: k + 0.5, y: [lo, CLOUD_P75[k]] })).filter((d) => d !== null);
  const base = { pointRadius: 0, fill: false, tension: 0 };
  return {
    type: "line",
    data: {
      datasets: [
        { ...base, label: "oper", data: pts(CLOUD_OPER, 0.5), borderColor: RED, borderWidth: 3, order: 0, halo: true },
        { ...base, label: "control", data: pts(CLOUD_CTRL, 0.5), borderColor: BLUE, borderWidth: 3, order: 1, halo: true },
        {
          label: "median",
          data: pts(CLOUD_MED, 0.5).filter((d) => d.y !== null),
          showLine: false,
          pointStyle: "line",
          pointRadius: 4,
          pointBorderColor: "#222",
          pointBorderWidth: 1,
          borderColor: "#222",
          order: 2,
        },
        {
          type: "bar",
          label: "50%",
          data: bars,
          backgroundColor: "#fbfbb0",
          borderColor: "#c8c8c8",
          borderWidth: 1.5,
          borderSkipped: false,
          barThickness: 8,
          order: 3,
        },
      ],
    },
    plugins: [panelPlugin],
    options: {
      responsive: false,
      animation: false,
      devicePixelRatio: 1,
      events: [],
      layout: { padding: { top: 21, right: 1, left: 0, bottom: 0 } },
      plugins: { legend: { display: false }, tooltip: { enabled: false }, panel: { title: "Bedekkingsgraad", refs: [], boxes: true, labelGap: 4.5 } },
      scales: { x: xScale(59.5), y: yScale(0, 100, 10, 23) },
    },
  };
}

const PANELS: any[] = [
  lineConfig({ title: "Temperatuur 2m", min: -10, max: 20, step: 5, oper: TEMP_OPER, ctrl: TEMP_CTRL, avg: TEMP_AVG, members: TEMP_MEMBERS, refs: [{ value: 0, color: "#000", width: 3 }] }),
  lineConfig({ title: "Dauwpunt 2m", min: -15, max: 15, step: 5, oper: DEW_OPER, ctrl: DEW_CTRL, avg: DEW_AVG, members: DEW_MEMBERS, refs: [] }),
  lineConfig({ title: "Neerslag", min: 0, max: 20, step: 2, oper: RAIN_OPER, ctrl: RAIN_CTRL, avg: RAIN_AVG, members: RAIN_MEMBERS, refs: [] }),
  lineConfig({ title: "10m wind", min: 0, max: 20, step: 2, oper: WIND_OPER, ctrl: WIND_CTRL, avg: WIND_AVG, members: WIND_MEMBERS, refs: [{ value: WIND_STORM, color: "#1f4f5c", width: 2, dash: [2, 2] }] }),
  lineConfig({ title: "10m windstoten", min: 0, max: 38, step: 2, oper: GUST_OPER, ctrl: GUST_CTRL, avg: GUST_AVG, members: GUST_MEMBERS, refs: [{ value: GUST_SEVERE, color: "#ff55ff", width: 2, dash: [6, 4] }, { value: GUST_STORM, color: "#1f4f5c", width: 2, dash: [2, 2] }] }),
  cloudConfig(),
];

function Panel({ config }: { config: any }) {
  const ref = useRef<HTMLCanvasElement | null>(null);
  useEffect(() => {
    if (!ref.current) return;
    let chart: any = null;
    try {
      chart = new Chart(ref.current, config);
    } catch (e) {
      console.error(e);
    }
    return () => {
      if (chart) chart.destroy();
    };
  }, [config]);
  return <canvas ref={ref} width={635} height={300} style={{ display: "block", width: 635, height: 300 }} />;
}

export default function App() {
  useEffect(() => {
    document.body.style.margin = "0";
    document.body.style.background = "#fff";
  }, []);
  return (
    <div style={{ width: 635, background: "#fff" }}>
      <style>{"body{margin:0;background:#fff}"}</style>
      {PANELS.map((c, i) => (
        <Panel key={i} config={c} />
      ))}
    </div>
  );
}
